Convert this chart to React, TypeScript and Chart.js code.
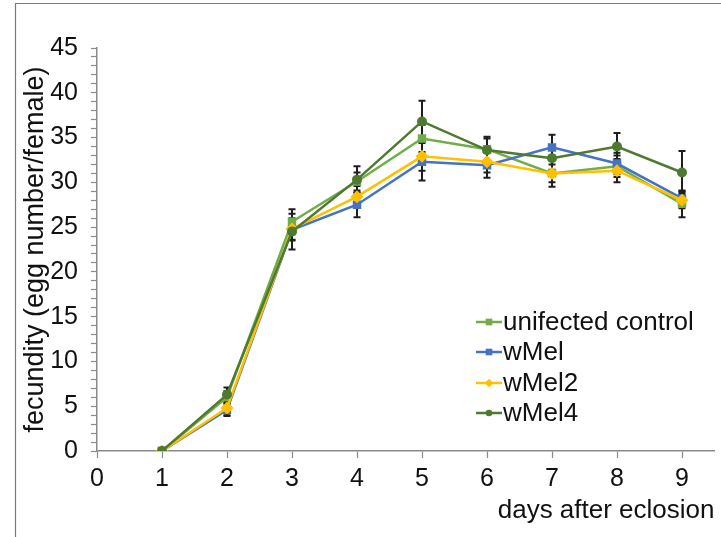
import React, { useEffect, useRef } from 'react';
import { Chart, registerables } from 'chart.js';

Chart.register(...registerables);

const days = [1, 2, 3, 4, 5, 6, 7, 8, 9];
const seriesNames = ['unifected control', 'wMel', 'wMel2', 'wMel4'];
const controlValues = [0, 6.0, 25.6, 30.1, 34.9, 33.7, 31.0, 31.8, 27.6];
const wMelValues = [0, 4.6, 24.7, 27.5, 32.3, 31.9, 33.9, 32.1, 28.2];
const wMel2Values = [0, 4.8, 24.8, 28.4, 32.9, 32.3, 31.0, 31.3, 28.0];
const wMel4Values = [0, 6.3, 24.5, 30.3, 36.8, 33.6, 32.7, 34.0, 31.1];
const controlErrors = [0, 0.7, 1.4, 1.0, 1.5, 1.2, 1.0, 1.2, 1.5];
const wMelErrors = [0, 0.7, 1.2, 1.4, 2.1, 1.4, 1.4, 1.2, 0.8];
const wMel2Errors = [0, 0.8, 1.2, 1.2, 1.6, 1.2, 1.5, 1.3, 0.9];
const wMel4Errors = [0, 0.8, 2.0, 1.5, 2.3, 1.5, 1.3, 1.5, 2.4];
const xAxisTitle = 'days after eclosion';
const yAxisTitle = 'fecundity (egg number/female)';

const seriesValues = [controlValues, wMelValues, wMel2Values, wMel4Values];
const seriesErrors = [controlErrors, wMelErrors, wMel2Errors, wMel4Errors];
const seriesColors = ['#70AD47', '#4472C4', '#FFC000', '#4E7A2F'];
const seriesMarkers = ['rect', 'rect', 'rectRot', 'circle'];
const seriesRadius = [6, 6, 6.5, 5];
const seriesOrder = [4, 3, 2, 1];

const SANS = "'Liberation Sans', Arial, sans-serif";
const AXIS_GRAY = '#8a8a8a';

const framePlugin = {
  id: 'frame',
  beforeDraw(chart: any) {
    const { ctx, width, height } = chart;
    ctx.save();
    ctx.fillStyle = '#ffffff';
    ctx.fillRect(0, 0, width, height);
    ctx.strokeStyle = '#7a7a7a';
    ctx.lineWidth = 1.2;
    ctx.beginPath();
    ctx.moveTo(15.5, height);
    ctx.lineTo(15.5, 3.5);
    ctx.lineTo(width, 3.5);
    ctx.stroke();
    ctx.restore();
  },
};

const errorBarPlugin = {
  id: 'errorBars',
  beforeDatasetsDraw(chart: any) {
    const { ctx } = chart;
    const xs = chart.scales.x;
    const ys = chart.scales.y;
    ctx.save();
    ctx.strokeStyle = '#1e1e1e';
    ctx.lineWidth = 2;
    seriesValues.forEach((vals, si) => {
      vals.forEach((v, j) => {
        const e = seriesErrors[si][j];
        if (!e) return;
        const x = xs.getPixelForValue(days[j]);
        const yTop = ys.getPixelForValue(v + e);
        const yBot = ys.getPixelForValue(v - e);
        ctx.beginPath();
        ctx.moveTo(x, yTop);
        ctx.lineTo(x, yBot);
        ctx.moveTo(x - 3.5, yTop);
        ctx.lineTo(x + 3.5, yTop);
        ctx.moveTo(x - 3.5, yBot);
        ctx.lineTo(x + 3.5, yBot);
        ctx.stroke();
      });
    });
    ctx.restore();
  },
};

function drawMarker(ctx: CanvasRenderingContext2D, kind: string, x: number, y: number, r: number, color: string) {
  ctx.fillStyle = color;
  ctx.beginPath();
  if (kind === 'rect') {
    ctx.rect(x - r, y - r, 2 * r, 2 * r);
  } else if (kind === 'rectRot') {
    ctx.moveTo(x, y - r * 1.3);
    ctx.lineTo(x + r * 1.3, y);
    ctx.lineTo(x, y + r * 1.3);
    ctx.lineTo(x - r * 1.3, y);
    ctx.closePath();
  } else {
    ctx.arc(x, y, r, 0, Math.PI * 2);
  }
  ctx.fill();
}

const legendPlugin = {
  id: 'customLegend',
  afterDraw(chart: any) {
    const { ctx } = chart;
    const rows = [322, 352, 383, 413];
    ctx.save();
    seriesNames.forEach((name, i) => {
      const y = rows[i];
      ctx.strokeStyle = seriesColors[i];
      ctx.lineWidth = 2.5;
      ctx.beginPath();
      ctx.moveTo(476, y);
      ctx.lineTo(502, y);
      ctx.stroke();
      drawMarker(ctx, seriesMarkers[i], 489, y, 3.3, seriesColors[i]);
      ctx.fillStyle = '#111';
      ctx.font = `26px ${SANS}`;
      ctx.textBaseline = 'middle';
      ctx.textAlign = 'left';
      ctx.fillText(name, 503, y + 1);
    });
    ctx.restore();
  },
};

export default function App() {
  const canvasRef = useRef<HTMLCanvasElement | null>(null);

  useEffect(() => {
    if (!canvasRef.current) return;
    const chart = new Chart(canvasRef.current, {
      type: 'line',
      data: {
        datasets: seriesNames.map((name, i) => ({
          label: name,
          data: days.map((d, j) => ({ x: d, y: seriesValues[i][j] })),
          borderColor: seriesColors[i],
          backgroundColor: seriesColors[i],
          pointBackgroundColor: seriesColors[i],
          pointBorderColor: seriesColors[i],
          pointStyle: seriesMarkers[i] as any,
          pointRadius: seriesRadius[i],
          pointBorderWidth: 0,
          borderWidth: 2.5,
          tension: 0,
          order: seriesOrder[i],
        })),
      },
      options: {
        animation: false,
        responsive: false,
        maintainAspectRatio: false,
        layout: { padding: { left: 0, right: 0, top: 48, bottom: 0 } },
        plugins: {
          legend: { display: false },
          tooltip: { enabled: false },
        },
        scales: {
          x: {
            type: 'linear',
            min: 0,
            max: 9.5,
            afterFit: (s: any) => {
              s.height = 86;
            },
            ticks: {
              stepSize: 1,
              includeBounds: false,
              padding: 6,
              color: '#111',
              font: { family: SANS, size: 25 },
              maxRotation: 0,
            },
            grid: {
              drawOnChartArea: false,
              drawTicks: true,
              tickLength: 7,
              tickColor: AXIS_GRAY,
              tickWidth: 1.2,
            },
            border: { color: AXIS_GRAY, width: 1.5 },
            title: {
              display: true,
              text: xAxisTitle,
              align: 'end',
              color: '#111',
              font: { family: SANS, size: 26 },
              padding: { top: 0, bottom: 11 },
            },
          },
          y: {
            type: 'linear',
            min: 0,
            max: 45,
            afterFit: (s: any) => {
              s.width = 97;
            },
            ticks: {
              stepSize: 1,
              padding: 13,
              color: '#111',
              font: { family: SANS, size: 25 },
              callback: (v: any) => (Number(v) % 5 === 0 ? String(v) : ''),
              autoSkip: false,
            },
            grid: {
              drawOnChartArea: false,
              drawTicks: true,
              tickLength: 6,
              tickColor: AXIS_GRAY,
              tickWidth: 1.2,
            },
            border: { color: AXIS_GRAY, width: 1.5 },
            title: {
              display: true,
              text: yAxisTitle,
              color: '#111',
              font: { family: SANS, size: 27 },
              padding: { top: 19, bottom: 0 },
            },
          },
        },
      },
      plugins: [framePlugin, errorBarPlugin, legendPlugin],
    } as any);
    return () => chart.destroy();
  }, []);

  return (
    <div style={{ position: 'absolute', left: 0, top: 0, width: 721, height: 537, background: '#fff' }}>
      <canvas ref={canvasRef} width={721} height={537} style={{ display: 'block', width: 721, height: 537 }} />
    </div>
  );
}
